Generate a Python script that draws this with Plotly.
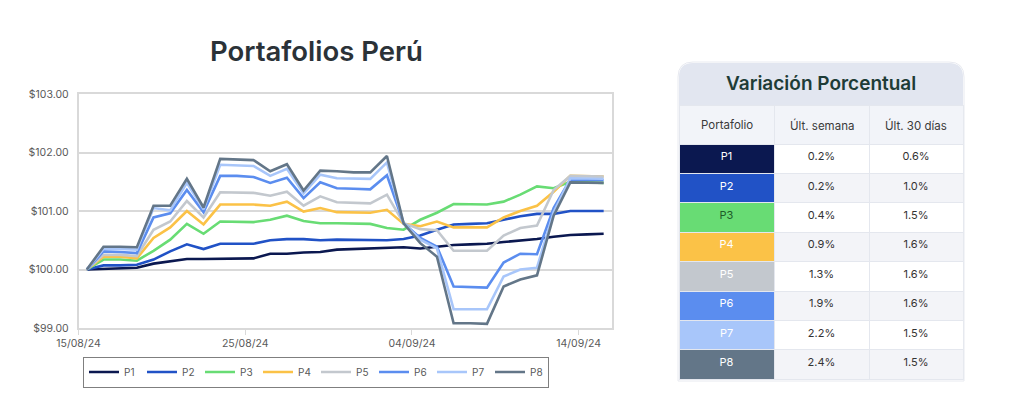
import pandas as pd
import plotly.graph_objects as go

# valores diarios de los portafolios (15/08/24 - 15/09/24)
fechas = pd.date_range("2024-08-15 12:00", periods=32, freq="D")

p1 = [100.00, 100.01, 100.02, 100.03, 100.10, 100.14, 100.18, 100.18, 100.18, 100.18,
      100.19, 100.27, 100.27, 100.29, 100.30, 100.34, 100.35, 100.36, 100.38, 100.38,
      100.36, 100.39, 100.42, 100.43, 100.44, 100.47, 100.49, 100.52, 100.56, 100.59,
      100.60, 100.61]
p2 = [100.00, 100.07, 100.07, 100.08, 100.17, 100.31, 100.43, 100.35, 100.44, 100.44,
      100.44, 100.50, 100.52, 100.52, 100.50, 100.51, 100.51, 100.51, 100.50, 100.52,
      100.58, 100.68, 100.77, 100.78, 100.79, 100.85, 100.91, 100.95, 100.95, 101.00,
      101.00, 101.00]
p3 = [100.00, 100.17, 100.17, 100.15, 100.32, 100.51, 100.78, 100.61, 100.82, 100.82,
      100.81, 100.85, 100.92, 100.83, 100.79, 100.79, 100.78, 100.78, 100.71, 100.68,
      100.85, 100.97, 101.12, 101.11, 101.11, 101.16, 101.28, 101.42, 101.39, 101.50,
      101.49, 101.48]
p4 = [100.00, 100.22, 100.22, 100.19, 100.54, 100.72, 101.00, 100.77, 101.11, 101.11,
      101.11, 101.09, 101.16, 100.99, 101.05, 100.98, 100.97, 100.97, 101.02, 100.78,
      100.74, 100.82, 100.72, 100.72, 100.72, 100.89, 101.00, 101.09, 101.33, 101.60,
      101.60, 101.59]
p5 = [100.00, 100.25, 100.25, 100.23, 100.68, 100.82, 101.17, 100.89, 101.32, 101.32,
      101.31, 101.26, 101.33, 101.09, 101.25, 101.15, 101.14, 101.13, 101.28, 100.79,
      100.69, 100.67, 100.32, 100.32, 100.32, 100.58, 100.71, 100.75, 101.36, 101.60,
      101.60, 101.59]
p6 = [100.00, 100.31, 100.30, 100.28, 100.89, 100.96, 101.36, 100.98, 101.60, 101.60,
      101.58, 101.48, 101.57, 101.22, 101.49, 101.39, 101.38, 101.37, 101.61, 100.79,
      100.54, 100.39, 99.71, 99.70, 99.69, 100.12, 100.27, 100.26, 101.05, 101.54,
      101.54, 101.53]
p7 = [100.00, 100.35, 100.35, 100.34, 101.05, 101.01, 101.48, 101.03, 101.79, 101.78,
      101.77, 101.60, 101.72, 101.30, 101.62, 101.56, 101.55, 101.55, 101.83, 100.79,
      100.51, 100.36, 99.32, 99.32, 99.32, 99.88, 100.00, 100.03, 100.98, 101.56,
      101.56, 101.55]
p8 = [100.00, 100.39, 100.39, 100.38, 101.09, 101.09, 101.55, 101.06, 101.89, 101.88,
      101.87, 101.68, 101.80, 101.35, 101.69, 101.68, 101.66, 101.66, 101.94, 100.79,
      100.45, 100.22, 99.08, 99.08, 99.07, 99.71, 99.83, 99.90, 100.92, 101.49,
      101.49, 101.48]

nombres = ["P1", "P2", "P3", "P4", "P5", "P6", "P7", "P8"]
series = [p1, p2, p3, p4, p5, p6, p7, p8]
colores = ["#0b1850", "#2152c6", "#68dc74", "#fbc247", "#c3c8ce",
           "#5b8def", "#a8c6fa", "#637688"]
color_texto = ["#ffffff", "#ffffff", "#1f5c2a", "#ffffff", "#ffffff",
               "#ffffff", "#ffffff", "#ffffff"]

# tabla de variaciones
encabezados = ["Portafolio", "Últ. semana", "Últ. 30 días"]
ult_semana = ["0.2%", "0.2%", "0.4%", "0.9%", "1.3%", "1.9%", "2.2%", "2.4%"]
ult_30 = ["0.6%", "1.0%", "1.5%", "1.6%", "1.6%", "1.6%", "1.5%", "1.5%"]

W, H = 1024, 417
FONT = "Inter"
OFF = 8  # margen del body de la pagina


def px(x):
    return (x - OFF) / W


def py(y):
    return 1 - (y - OFF) / H


fig = go.Figure()
for nombre, vals, col in zip(nombres, series, colores):
    fig.add_trace(go.Scatter(x=fechas, y=vals, name=nombre, mode="lines",
                             line=dict(color=col, width=2.6)))

fig.update_xaxes(
    domain=[px(78.5), px(612)],
    type="date",
    range=["2024-08-15", "2024-09-16"],
    tick0="2024-08-15", dtick=10 * 86400000,
    tickformat="%d/%m/%y",
    ticks="outside", ticklen=5, tickcolor="#d9d9d9",
    showgrid=False,
    showline=True, linecolor="#d9d9d9", linewidth=1.5, mirror=True,
    tickfont=dict(family=FONT, size=10.5, color="#595959"),
    automargin=False,
)
fig.update_yaxes(
    domain=[py(328), py(94)],
    range=[99, 103], dtick=1,
    tickformat="$.2f",
    showgrid=True, gridcolor="#d9d9d9", gridwidth=1.5,
    zeroline=False,
    showline=True, linecolor="#d9d9d9", linewidth=1.5, mirror=True,
    ticklabelstandoff=6,
    tickfont=dict(family=FONT, size=10.5, color="#595959"),
    automargin=False,
)

# tabla: el texto del encabezado va como anotacion para centrarlo
tx0, tx1 = 679, 963
col_w = [95, 95, 94]
fig.add_trace(go.Table(
    domain=dict(x=[px(tx0), px(tx1)], y=[py(382), py(105)]),
    columnwidth=col_w,
    header=dict(values=["", "", ""],
                fill_color="#f2f4f9", line_color="#e4e7ee", height=39),
    cells=dict(values=[nombres, ult_semana, ult_30],
               fill_color=[colores,
                           ["#ffffff", "#f3f4f8"] * 4,
                           ["#ffffff", "#f3f4f8"] * 4],
               font=dict(family=FONT, size=11,
                         color=[color_texto, ["#333333"] * 8, ["#333333"] * 8]),
               line_color="#e4e7ee", height=29.4, align="center"),
))
cx = tx0
for txt, w in zip(encabezados, col_w):
    fig.add_annotation(text=txt, x=px(cx + w / 2), y=py(125),
                       xref="paper", yref="paper", showarrow=False,
                       xanchor="center", yanchor="middle",
                       font=dict(family=FONT, size=11.5, color="#3a3a3a"))
    cx += w

# cabecera redondeada de la tabla y borde suave
r = 14
y0, y1 = 63, 105
path = (f"M {px(tx0)},{py(y1)} L {px(tx0)},{py(y0 + r)} "
        f"Q {px(tx0)},{py(y0)} {px(tx0 + r)},{py(y0)} "
        f"L {px(tx1 - r)},{py(y0)} Q {px(tx1)},{py(y0)} {px(tx1)},{py(y0 + r)} "
        f"L {px(tx1)},{py(y1)} Z")
fig.add_shape(type="path", path=path, xref="paper", yref="paper",
              fillcolor="#e2e6f0", line_width=0, layer="below")
borde = (f"M {px(tx0 - 1)},{py(381)} L {px(tx0 - 1)},{py(y0 + r)} "
         f"Q {px(tx0 - 1)},{py(y0 - 1)} {px(tx0 + r)},{py(y0 - 1)} "
         f"L {px(tx1 - r)},{py(y0 - 1)} Q {px(tx1 + 1)},{py(y0 - 1)} {px(tx1 + 1)},{py(y0 + r)} "
         f"L {px(tx1 + 1)},{py(381)} Z")
fig.add_shape(type="path", path=borde, xref="paper", yref="paper",
              line=dict(color="#e8eaf0", width=1), layer="above")

fig.add_annotation(text="Variación Porcentual", x=px(821), y=py(84),
                   xref="paper", yref="paper", showarrow=False,
                   xanchor="center", yanchor="middle",
                   font=dict(family=FONT, size=19, color="#1e3c37", weight=600))
fig.add_annotation(text="Portafolios Perú", x=px(316), y=py(51),
                   xref="paper", yref="paper", showarrow=False,
                   xanchor="center", yanchor="middle",
                   font=dict(family=FONT, size=27.5, color="#2b3238", weight=600))

fig.update_layout(
    width=W, height=H,
    margin=dict(l=0, r=0, t=0, b=0),
    paper_bgcolor="white", plot_bgcolor="white",
    showlegend=True,
    legend=dict(orientation="h", x=px(316), xanchor="center",
                y=py(372), yanchor="middle",
                bordercolor="#7f7f7f", borderwidth=1,
                font=dict(family=FONT, size=10, color="#595959"),
                entrywidth=13, entrywidthmode="pixels"),
)

fig.write_html("out.html")
